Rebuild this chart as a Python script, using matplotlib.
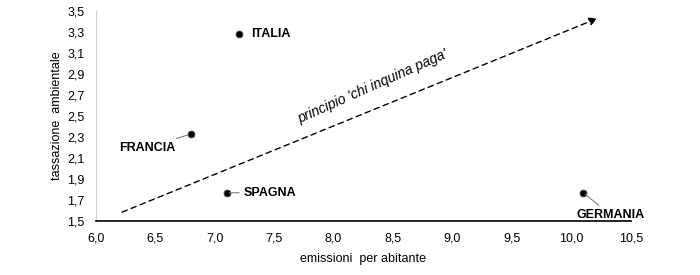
import matplotlib.pyplot as plt
import numpy as np

plt.rcParams['font.family'] = ['Liberation Sans Narrow', 'Liberation Sans', 'DejaVu Sans']

paesi = ['ITALIA', 'FRANCIA', 'SPAGNA', 'GERMANIA']
emissioni = [7.2, 6.8, 7.1, 10.1]
tassazione = [3.28, 2.33, 1.77, 1.77]

# label positions (offset in points) and alignment for each country
offsets = [(9, 0), (-11, -10), (12, 0), (20, -16)]
allineamento = ['left', 'right', 'left', 'center']
leader = [False, True, True, True]

fig = plt.figure(figsize=(7, 2.75), dpi=100)
ax = fig.add_axes([0.137, 0.196, 0.764, 0.764])

ax.scatter(emissioni, tassazione, s=24, color='black', edgecolors='#404040',
           linewidths=0.6, zorder=3)

for i in range(len(paesi)):
    dx, dy = offsets[i]
    if leader[i]:
        ax.annotate(paesi[i], (emissioni[i], tassazione[i]), xytext=(dx, dy),
                    textcoords='offset points', ha=allineamento[i], va='center',
                    fontsize=9, fontweight='bold',
                    arrowprops=dict(arrowstyle='-', color='#808080', lw=0.8,
                                    shrinkA=1, shrinkB=2))
    else:
        ax.annotate(paesi[i], (emissioni[i], tassazione[i]), xytext=(dx, dy),
                    textcoords='offset points', ha=allineamento[i], va='center',
                    fontsize=9, fontweight='bold')

# trend arrow
ax.annotate('', xy=(10.22, 3.43), xytext=(6.22, 1.585),
            arrowprops=dict(arrowstyle='-|>', linestyle=(0, (4, 3)), color='black',
                            lw=1.0, mutation_scale=12, shrinkA=0, shrinkB=0))
ax.text(8.33, 2.78, "principio 'chi inquina paga'", rotation=24, style='italic',
        fontsize=10, ha='center', va='center')

ax.set_xlim(6.0, 10.5)
ax.set_ylim(1.5, 3.5)
ax.set_xticks(np.arange(6.0, 10.51, 0.5))
ax.set_yticks(np.arange(1.5, 3.51, 0.2))
ax.set_xticklabels([f'{v:.1f}'.replace('.', ',') for v in np.arange(6.0, 10.51, 0.5)])
ax.set_yticklabels([f'{v:.1f}'.replace('.', ',') for v in np.arange(1.5, 3.51, 0.2)])
ax.tick_params(length=0, labelsize=9, pad=8)

ax.spines['top'].set_visible(False)
ax.spines['right'].set_visible(False)
ax.spines['left'].set_color('#d0d0d0')
ax.spines['bottom'].set_color('black')
ax.spines['bottom'].set_linewidth(1.2)

ax.set_xlabel('emissioni  per abitante', fontsize=9, labelpad=6)
ax.set_ylabel('tassazione  ambientale', fontsize=9, labelpad=3)

fig.savefig('out.png', dpi=100)
